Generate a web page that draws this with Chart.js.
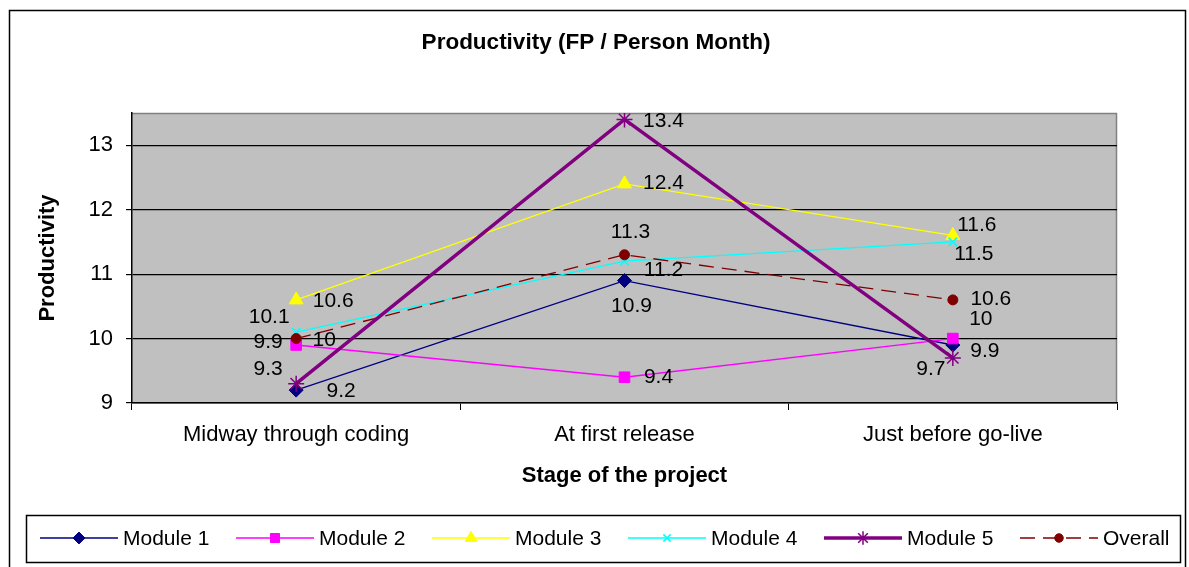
<!DOCTYPE html>
<html>
<head>
<meta charset="utf-8">
<script src="https://cdn.jsdelivr.net/npm/chart.js@4.4.1/dist/chart.umd.min.js"></script>
<style>
  html, body { margin: 0; padding: 0; background: #fff; }
  #wrap { width: 1189px; height: 567px; }
</style>
</head>
<body>
<div id="wrap"><canvas id="c" width="1189" height="567"></canvas></div>
<script>
// ---- data ----
const categories = ["Midway through coding", "At first release", "Just before go-live"];
const seriesNames = ["Module 1", "Module 2", "Module 3", "Module 4", "Module 5", "Overall"];
const module1 = [9.2, 10.9, 9.9];
const module2 = [9.9, 9.4, 10];
const module3 = [10.6, 12.4, 11.6];
const module4 = [10.1, 11.2, 11.5];
const module5 = [9.3, 13.4, 9.7];
const overall = [10, 11.3, 10.6];
const yTicks = [9, 10, 11, 12, 13];

// label placement (offsets from point, in px)
const labelOffsets = [
  [[45, 1], [7, 26], [32, 6]],
  [[-28, -3], [34, 0], [28, -19]],
  [[37, 1], [39, -1], [24, -10]],
  [[-27, -15], [39, 9], [21, 12]],
  [[-28, -14], [39, 2], [-22, 11]],
  [[28, 2], [6, -23], [38, -1]]
];

const FONT = "'Liberation Sans', Arial, sans-serif";

const styles = [
  { color: '#000080', width: 1.3, point: 'rectRot', radius: 7, dash: [] },
  { color: '#FF00FF', width: 1.3, point: 'rect', radius: 7.5, dash: [] },
  { color: '#FFFF00', width: 1.3, point: 'triangle', radius: 8, dash: [] },
  { color: '#00FFFF', width: 1.3, point: 'crossRot', radius: 6, dash: [] },
  { color: '#800080', width: 3.5, point: 'star', radius: 8, dash: [] },
  { color: '#800000', width: 1.3, point: 'circle', radius: 5, dash: [15, 8] }
];
const allValues = [module1, module2, module3, module4, module5, overall];
const drawOrder = [6, 5, 4, 3, 1, 2];

const datasets = allValues.map((vals, i) => ({
  label: seriesNames[i],
  data: vals,
  borderColor: styles[i].color,
  backgroundColor: styles[i].color,
  pointBackgroundColor: styles[i].color,
  pointBorderColor: styles[i].color,
  borderWidth: styles[i].width,
  borderDash: styles[i].dash,
  pointStyle: styles[i].point,
  pointRadius: styles[i].radius,
  pointHoverRadius: styles[i].radius,
  pointBorderWidth: (styles[i].point === 'crossRot' || styles[i].point === 'star') ? 1.5 : 1,
  tension: 0,
  fill: false,
  order: drawOrder[i]
}));

const decor = {
  id: 'decor',
  beforeDraw(chart) {
    const ctx = chart.ctx, a = chart.chartArea;
    ctx.save();
    ctx.fillStyle = '#fff';
    ctx.fillRect(0, 0, chart.width, chart.height);
    // outer frame
    ctx.strokeStyle = '#000';
    ctx.lineWidth = 1.5;
    ctx.strokeRect(9.5, 10.5, 1176, 570);
    // plot bg
    ctx.fillStyle = '#C0C0C0';
    ctx.fillRect(a.left, a.top, a.right - a.left, a.bottom - a.top);
    ctx.strokeStyle = '#808080';
    ctx.lineWidth = 1.5;
    ctx.beginPath();
    ctx.moveTo(a.left, a.top + 0.5);
    ctx.lineTo(a.right - 0.5, a.top + 0.5);
    ctx.lineTo(a.right - 0.5, a.bottom);
    ctx.stroke();
    ctx.restore();
  },
  afterDraw(chart) {
    const ctx = chart.ctx, a = chart.chartArea;
    ctx.save();
    ctx.fillStyle = '#000';
    // title
    ctx.font = "bold 22.5px " + FONT;
    ctx.textAlign = 'center';
    ctx.textBaseline = 'middle';
    ctx.fillText('Productivity (FP / Person Month)', 596, 43);
    // x axis title
    ctx.font = "bold 22px " + FONT;
    ctx.fillText('Stage of the project', (a.left + a.right) / 2, 476);
    // y axis title
    ctx.save();
    ctx.translate(48, (a.top + a.bottom) / 2);
    ctx.rotate(-Math.PI / 2);
    ctx.fillText('Productivity', 0, 0);
    ctx.restore();

    // data labels
    ctx.font = "21px " + FONT;
    ctx.textAlign = 'center';
    ctx.textBaseline = 'middle';
    chart.data.datasets.forEach((ds, i) => {
      const meta = chart.getDatasetMeta(i);
      meta.data.forEach((pt, j) => {
        const off = labelOffsets[i][j];
        ctx.fillText(String(ds.data[j]), pt.x + off[0], pt.y + off[1]);
      });
    });

    // legend
    const lx = 26, ly = 515, lw = 1154, lh = 47;
    ctx.strokeStyle = '#000';
    ctx.lineWidth = 1.5;
    ctx.fillStyle = '#fff';
    ctx.fillRect(lx, ly, lw, lh);
    ctx.strokeRect(lx + 0.5, ly + 0.5, lw, lh);
    const cy = 538;
    chart.data.datasets.forEach((ds, i) => {
      const x0 = 40 + i * 196;
      ctx.save();
      ctx.strokeStyle = ds.borderColor;
      ctx.lineWidth = ds.borderWidth;
      ctx.setLineDash(ds.borderDash || []);
      ctx.beginPath();
      ctx.moveTo(x0, cy);
      ctx.lineTo(x0 + 78, cy);
      ctx.stroke();
      ctx.setLineDash([]);
      ctx.fillStyle = ds.pointBackgroundColor;
      ctx.strokeStyle = ds.pointBorderColor;
      ctx.lineWidth = ds.pointBorderWidth;
      Chart.helpers.drawPoint(ctx, { pointStyle: ds.pointStyle, radius: ds.pointRadius * 0.85, borderWidth: ds.pointBorderWidth, rotation: 0 }, x0 + 39, cy);
      ctx.restore();
      ctx.fillStyle = '#000';
      ctx.font = "21px " + FONT;
      ctx.textAlign = 'left';
      ctx.textBaseline = 'middle';
      ctx.fillText(ds.label, x0 + 83, cy + 1);
    });
    ctx.restore();
  }
};

new Chart(document.getElementById('c'), {
  type: 'line',
  data: { labels: categories, datasets },
  options: {
    responsive: false,
    animation: false,
    events: [],
    layout: { padding: { left: 32, right: 72, top: 113, bottom: 64 } },
    plugins: { legend: { display: false }, title: { display: false }, tooltip: { enabled: false } },
    scales: {
      x: {
        type: 'category',
        offset: true,
        afterFit(s) { s.height = 100; },
        grid: { offset: true, drawOnChartArea: false, drawTicks: true, tickLength: 7, color: '#000', lineWidth: 1 },
        border: { display: true, color: '#000', width: 1.5 },
        ticks: { color: '#000', font: { family: FONT, size: 22 }, padding: 12, maxRotation: 0, autoSkip: false }
      },
      y: {
        type: 'linear',
        min: 9,
        max: 13.5,
        afterFit(s) { s.width = 100; },
        afterBuildTicks(s) { s.ticks = yTicks.map(v => ({ value: v })); },
        grid: { drawOnChartArea: true, drawTicks: true, tickLength: 6, color: '#000', lineWidth: 1.2 },
        border: { display: true, color: '#000', width: 1.5 },
        ticks: { color: '#000', font: { family: FONT, size: 22 }, padding: 13, includeBounds: false }
      }
    }
  },
  plugins: [decor]
});
</script>
</body>
</html>
